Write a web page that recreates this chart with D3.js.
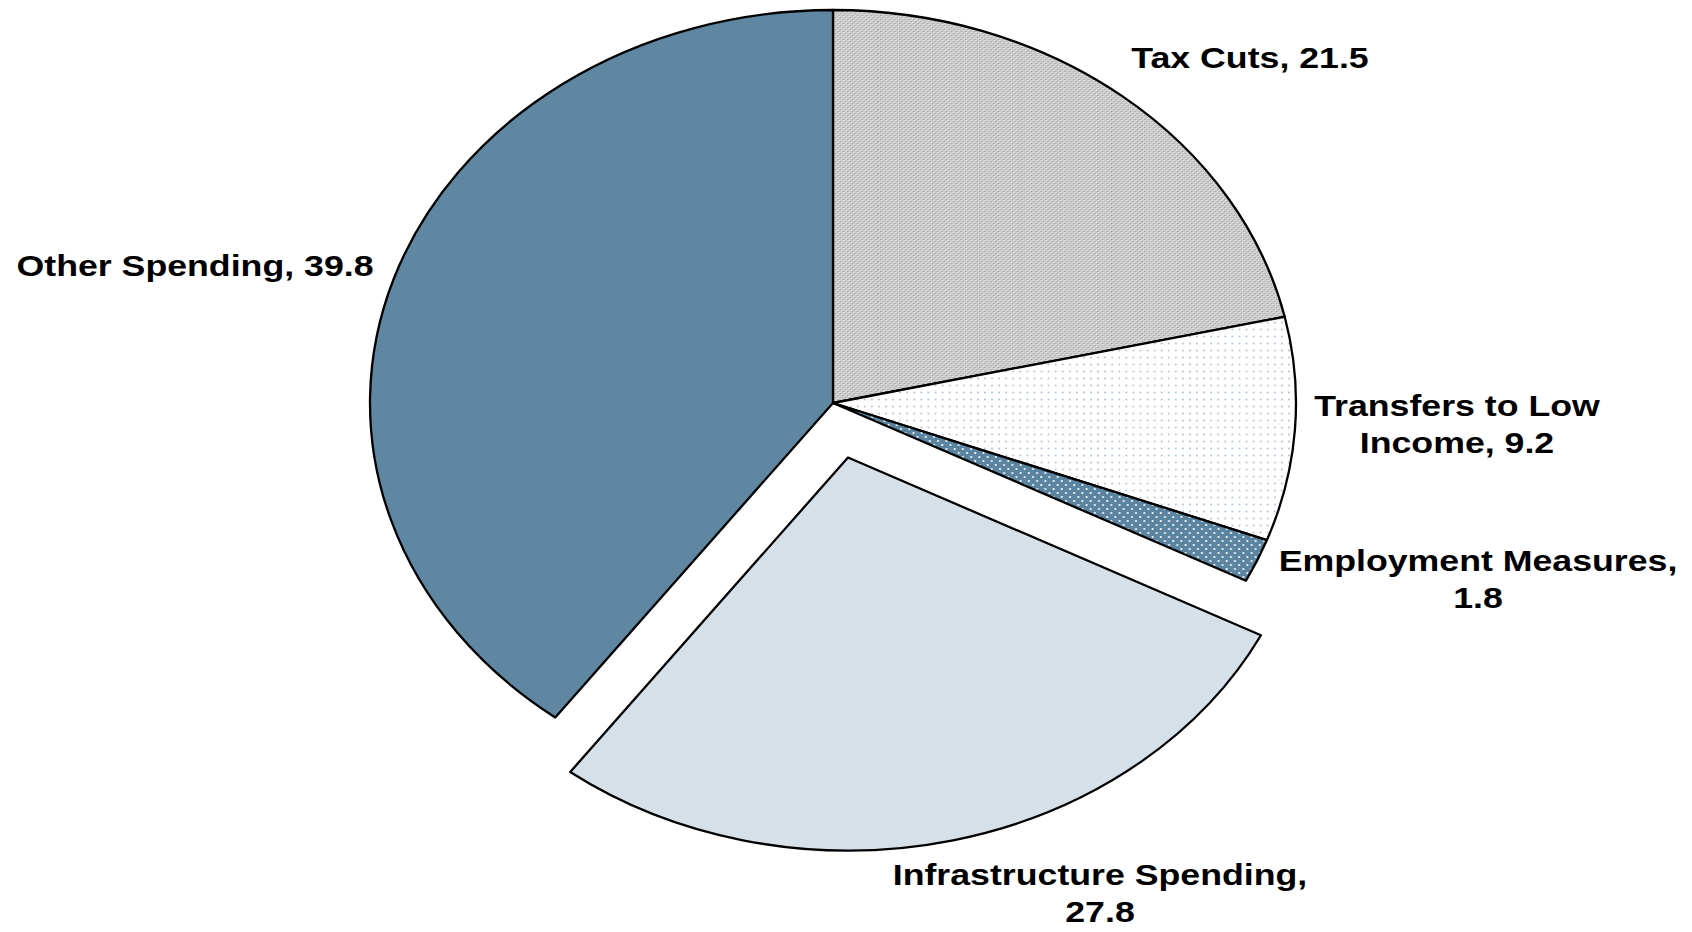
<!DOCTYPE html>
<meta charset="utf-8">
<style> /* set the CSS */

body { margin: 0; background: #fff; }

.slice {
  stroke: #000;
  stroke-width: 2.3px;
  stroke-linejoin: round;
}

.label {
  font-family: "Liberation Sans", Arial, sans-serif;
  font-weight: bold;
  font-size: 30px;
  fill: #000;
}

</style>
<body>

<!-- load the d3.js library -->
<script src="https://d3js.org/d3.v7.min.js"></script>
<script>

// the data, clockwise from 12 o'clock
var categories = ["Tax Cuts", "Transfers to Low Income", "Employment Measures",
                  "Infrastructure Spending", "Other Spending"];
var values = [21.5, 9.2, 1.8, 27.8, 39.8];

// label text lines for each slice
var labelLines = [
  ["Tax Cuts, 21.5"],
  ["Transfers to Low", "Income, 9.2"],
  ["Employment Measures,", "1.8"],
  ["Infrastructure Spending,", "27.8"],
  ["Other Spending, 39.8"]
];

// layout: where each label sits (centre x, first baseline y)
var labelPos = [[1250, 68], [1457, 416], [1478, 571], [1100, 885], [195, 276]];

// fills for each slice (patterns defined below)
var fills = ["url(#hatchGrey)", "url(#dotsLight)", "url(#dotsBlue)", "#d6e0e8", "#5f87a1"];

// the slice that is pulled out
var exploded = "Infrastructure Spending";

// set the dimensions: the pie is drawn as a circle then stretched sideways
var width = 1692,
    height = 932,
    cx = 833,
    cy = 403,
    radius = 393,
    stretch = 463 / 393,
    explode = 56;

var svg = d3.select("body").append("svg")
    .attr("width", width)
    .attr("height", height);

// patterns
var defs = svg.append("defs");

var p1 = defs.append("pattern")
    .attr("id", "hatchGrey")
    .attr("patternUnits", "userSpaceOnUse")
    .attr("width", 4).attr("height", 4);
p1.append("rect").attr("width", 4).attr("height", 4).attr("fill", "#cbcbcb");
p1.append("rect").attr("x", 0).attr("y", 0).attr("width", 1).attr("height", 1).attr("fill", "#a0a0a0");
p1.append("rect").attr("x", 2).attr("y", 2).attr("width", 1).attr("height", 1).attr("fill", "#a0a0a0");
p1.append("rect").attr("x", 1).attr("y", 1).attr("width", 1).attr("height", 1).attr("fill", "#eaeaea");
p1.append("rect").attr("x", 3).attr("y", 3).attr("width", 1).attr("height", 1).attr("fill", "#eaeaea");

var p2 = defs.append("pattern")
    .attr("id", "dotsLight")
    .attr("patternUnits", "userSpaceOnUse")
    .attr("width", 6).attr("height", 7);
p2.append("rect").attr("width", 6).attr("height", 7).attr("fill", "#ffffff");
p2.append("circle").attr("cx", 3).attr("cy", 3.5).attr("r", 0.9).attr("fill", "#b3c5d7");

var p3 = defs.append("pattern")
    .attr("id", "dotsBlue")
    .attr("patternUnits", "userSpaceOnUse")
    .attr("width", 7).attr("height", 8);
p3.append("rect").attr("width", 7).attr("height", 8).attr("fill", "#5b84a0");
p3.append("circle").attr("cx", 1.75).attr("cy", 2).attr("r", 0.9).attr("fill", "#ffffff");
p3.append("circle").attr("cx", 5.25).attr("cy", 6).attr("r", 0.9).attr("fill", "#ffffff");

// pie layout and arc generator
var pie = d3.pie()
    .sort(null)
    .value(function(d) { return d.value; });

var arc = d3.arc()
    .innerRadius(0)
    .outerRadius(radius);

var data = categories.map(function(c, i) {
  return {name: c, value: values[i], fill: fills[i]};
});

var g = svg.append("g")
    .attr("transform", "translate(" + cx + "," + cy + ") scale(" + stretch + ",1)");

// draw the slices
g.selectAll(".slice")
    .data(pie(data))
  .enter().append("path")
    .attr("class", "slice")
    .attr("vector-effect", "non-scaling-stroke")
    .attr("fill", function(d) { return d.data.fill; })
    .attr("transform", function(d) {
      if (d.data.name !== exploded) return null;
      var a = (d.startAngle + d.endAngle) / 2;
      return "translate(" + (Math.sin(a) * explode) + "," + (-Math.cos(a) * explode) + ")";
    })
    .attr("d", arc);

// labels
var labels = svg.selectAll(".label")
    .data(labelLines)
  .enter().append("text")
    .attr("class", "label")
    .attr("text-anchor", "middle")
    .attr("transform", function(d, i) {
      return "translate(" + labelPos[i][0] + "," + labelPos[i][1] + ") scale(1.19,1)";
    });

labels.selectAll("tspan")
    .data(function(d) { return d; })
  .enter().append("tspan")
    .attr("x", 0)
    .attr("y", function(d, i) { return i * 37; })
    .text(function(d) { return d; });

</script>
</body>
